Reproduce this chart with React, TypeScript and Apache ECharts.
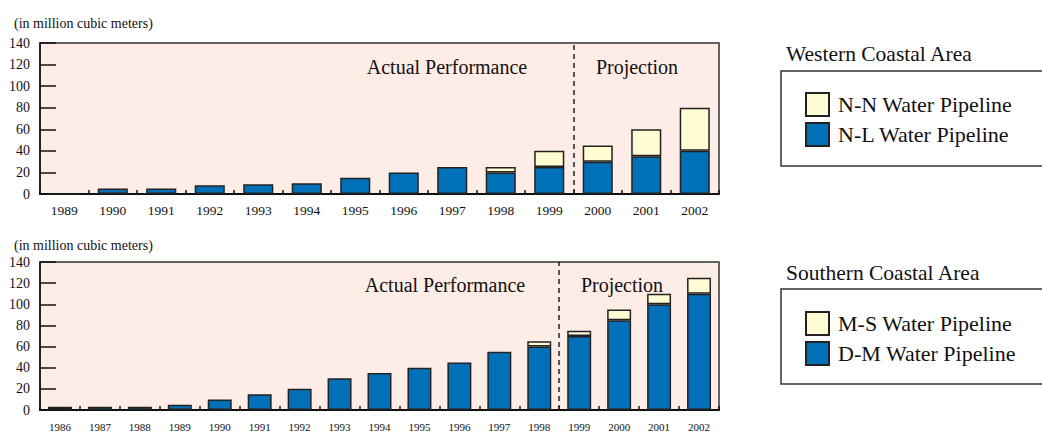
import React, { useEffect, useRef } from "react";
import * as echarts from "echarts";

// ---------- data ----------
const westYears = ["1989", "1990", "1991", "1992", "1993", "1994", "1995", "1996", "1997", "1998", "1999", "2000", "2001", "2002"];
const westNL = [0, 5, 5, 8, 9, 10, 15, 20, 25, 20, 25, 30, 35, 40];
const westNN = [0, 0, 0, 0, 0, 0, 0, 0, 0, 5, 15, 15, 25, 40];
const westProjectionStart = 11; // index of 2000

const southYears = ["1986", "1987", "1988", "1989", "1990", "1991", "1992", "1993", "1994", "1995", "1996", "1997", "1998", "1999", "2000", "2001", "2002"];
const southDM = [3, 3, 3, 5, 10, 15, 20, 30, 35, 40, 45, 55, 60, 70, 85, 100, 110];
const southMS = [0, 0, 0, 0, 0, 0, 0, 0, 0, 0, 0, 0, 5, 5, 10, 10, 15];
const southProjectionStart = 13; // index of 1999
const southBlackIndex = 0; // 1986 bar drawn in black

const yMin = 0;
const yMax = 140;
const yInterval = 20;

const unitLabel = "(in million cubic meters)";
const westTitle = "Western Coastal Area";
const southTitle = "Southern Coastal Area";
const actualLabel = "Actual Performance";
const projectionLabel = "Projection";

// ---------- styles ----------
const FONT = "Liberation Serif";
const BLUE = "#0071B9";
const CREAM = "#FFFBD2";
const BLACK = "#111111";
const BG = "#FDEDE6";
const INK = "#111111";

export default function App() {
  const ref = useRef<HTMLDivElement>(null);

  useEffect(() => {
    if (!ref.current) return;
    const chart = echarts.init(ref.current, undefined, { renderer: "svg" });

    const barBorder = { borderColor: "#222", borderWidth: 1.5 };

    const gridCommon = {
      show: true,
      backgroundColor: BG,
      borderColor: "#333",
      borderWidth: 1.5,
      containLabel: false,
    };

    const catAxis = (gridIndex: number, data: string[], fontSize: number, margin: number) => ({
      type: "category",
      gridIndex,
      data,
      boundaryGap: true,
      axisLine: { show: true, lineStyle: { color: INK, width: 2 } },
      axisTick: { show: true, inside: true, length: 4, lineStyle: { color: INK, width: 1.5 } },
      axisLabel: { interval: 0, fontSize, margin, color: INK, fontFamily: FONT },
      splitLine: { show: false },
    });

    const valAxis = (gridIndex: number, nameGap: number) => ({
      type: "value",
      gridIndex,
      min: yMin,
      max: yMax,
      interval: yInterval,
      name: unitLabel,
      nameLocation: "end",
      nameGap,
      nameTextStyle: {
        fontSize: 14,
        fontFamily: FONT,
        color: INK,
        align: "left",
        verticalAlign: "middle",
        padding: [0, 0, 0, -26],
      },
      axisLine: { show: true, lineStyle: { color: INK, width: 1.5 } },
      axisTick: { show: true, inside: true, length: 16, lineStyle: { color: INK, width: 1.5 } },
      axisLabel: { fontSize: 14, margin: 10, color: INK, fontFamily: FONT },
      splitLine: { show: false },
    });

    const hiddenAxis = (gridIndex: number, count: number) => ({
      type: "value",
      gridIndex,
      min: 0,
      max: count,
      show: false,
    });

    const divider = (xAxisIndex: number, yAxisIndex: number, at: number) => ({
      type: "line",
      xAxisIndex,
      yAxisIndex,
      data: [],
      silent: true,
      markLine: {
        silent: true,
        symbol: ["none", "none"],
        label: { show: false },
        lineStyle: { type: [5, 4], color: "#222", width: 1.5 },
        data: [{ xAxis: at }],
      },
    });

    const legendCommon = {
      orient: "vertical",
      padding: 0,
      itemWidth: 23,
      itemHeight: 23,
      itemGap: 5,
      icon: "rect",
      selectedMode: false,
      textStyle: {
        fontSize: 22,
        fontFamily: FONT,
        color: INK,
        lineHeight: 23,
        padding: [0, 0, 0, 4],
      },
    };

    const text = (x: number, y: number, t: string, size: number, align: string) => ({
      type: "text",
      x,
      y,
      style: {
        text: t,
        fontSize: size,
        fontFamily: FONT,
        fill: INK,
        align,
        verticalAlign: "middle",
      },
    });

    chart.setOption({
      animation: false,
      backgroundColor: "#ffffff",
      textStyle: { fontFamily: FONT },
      grid: [
        { ...gridCommon, left: 40, top: 43, width: 679, height: 151 },
        { ...gridCommon, left: 40, top: 262, width: 679, height: 151 },
      ],
      xAxis: [
        catAxis(0, westYears, 13.5, 9),
        catAxis(1, southYears, 11, 11),
        hiddenAxis(0, westYears.length),
        hiddenAxis(1, southYears.length),
      ],
      yAxis: [valAxis(0, 20), valAxis(1, 17)],
      legend: [
        { ...legendCommon, left: 805, top: 92, data: ["N-N Water Pipeline", "N-L Water Pipeline"] },
        { ...legendCommon, left: 805, top: 311, data: ["M-S Water Pipeline", "D-M Water Pipeline"] },
      ],
      series: [
        {
          name: "N-L Water Pipeline",
          type: "bar",
          stack: "west",
          xAxisIndex: 0,
          yAxisIndex: 0,
          barWidth: "62%",
          itemStyle: { color: BLUE, ...barBorder },
          data: westNL,
        },
        {
          name: "N-N Water Pipeline",
          type: "bar",
          stack: "west",
          xAxisIndex: 0,
          yAxisIndex: 0,
          barWidth: "62%",
          itemStyle: { color: CREAM, ...barBorder },
          data: westNN.map((v) => (v === 0 ? null : v)),
        },
        {
          name: "D-M Water Pipeline",
          type: "bar",
          stack: "south",
          xAxisIndex: 1,
          yAxisIndex: 1,
          barWidth: "60%",
          itemStyle: { color: BLUE, ...barBorder },
          data: southDM.map((v, i) =>
            i === southBlackIndex ? { value: v, itemStyle: { color: BLACK } } : v
          ),
        },
        {
          name: "M-S Water Pipeline",
          type: "bar",
          stack: "south",
          xAxisIndex: 1,
          yAxisIndex: 1,
          barWidth: "60%",
          itemStyle: { color: CREAM, ...barBorder },
          data: southMS.map((v) => (v === 0 ? null : v)),
        },
        divider(2, 0, westProjectionStart),
        divider(3, 1, southProjectionStart),
      ],
      graphic: [
        text(447, 67, actualLabel, 20, "center"),
        text(637, 67, projectionLabel, 20, "center"),
        text(445, 285, actualLabel, 20, "center"),
        text(622, 285, projectionLabel, 20, "center"),
        text(786, 54, westTitle, 21.5, "left"),
        text(786, 273, southTitle, 21.5, "left"),
        {
          type: "rect",
          shape: { x: 781, y: 71, width: 280, height: 95 },
          style: { fill: "none", stroke: "#333", lineWidth: 1.5 },
        },
        {
          type: "rect",
          shape: { x: 781, y: 289, width: 280, height: 95 },
          style: { fill: "none", stroke: "#333", lineWidth: 1.5 },
        },
      ],
    });

    return () => chart.dispose();
  }, []);

  return (
    <>
      <style>{`.chart-root svg text { font-family: "Liberation Serif", serif !important; }`}</style>
      <div
        ref={ref}
        className="chart-root"
        style={{ position: "fixed", left: 0, top: 0, width: 1042, height: 432 }}
      />
    </>
  );
}
